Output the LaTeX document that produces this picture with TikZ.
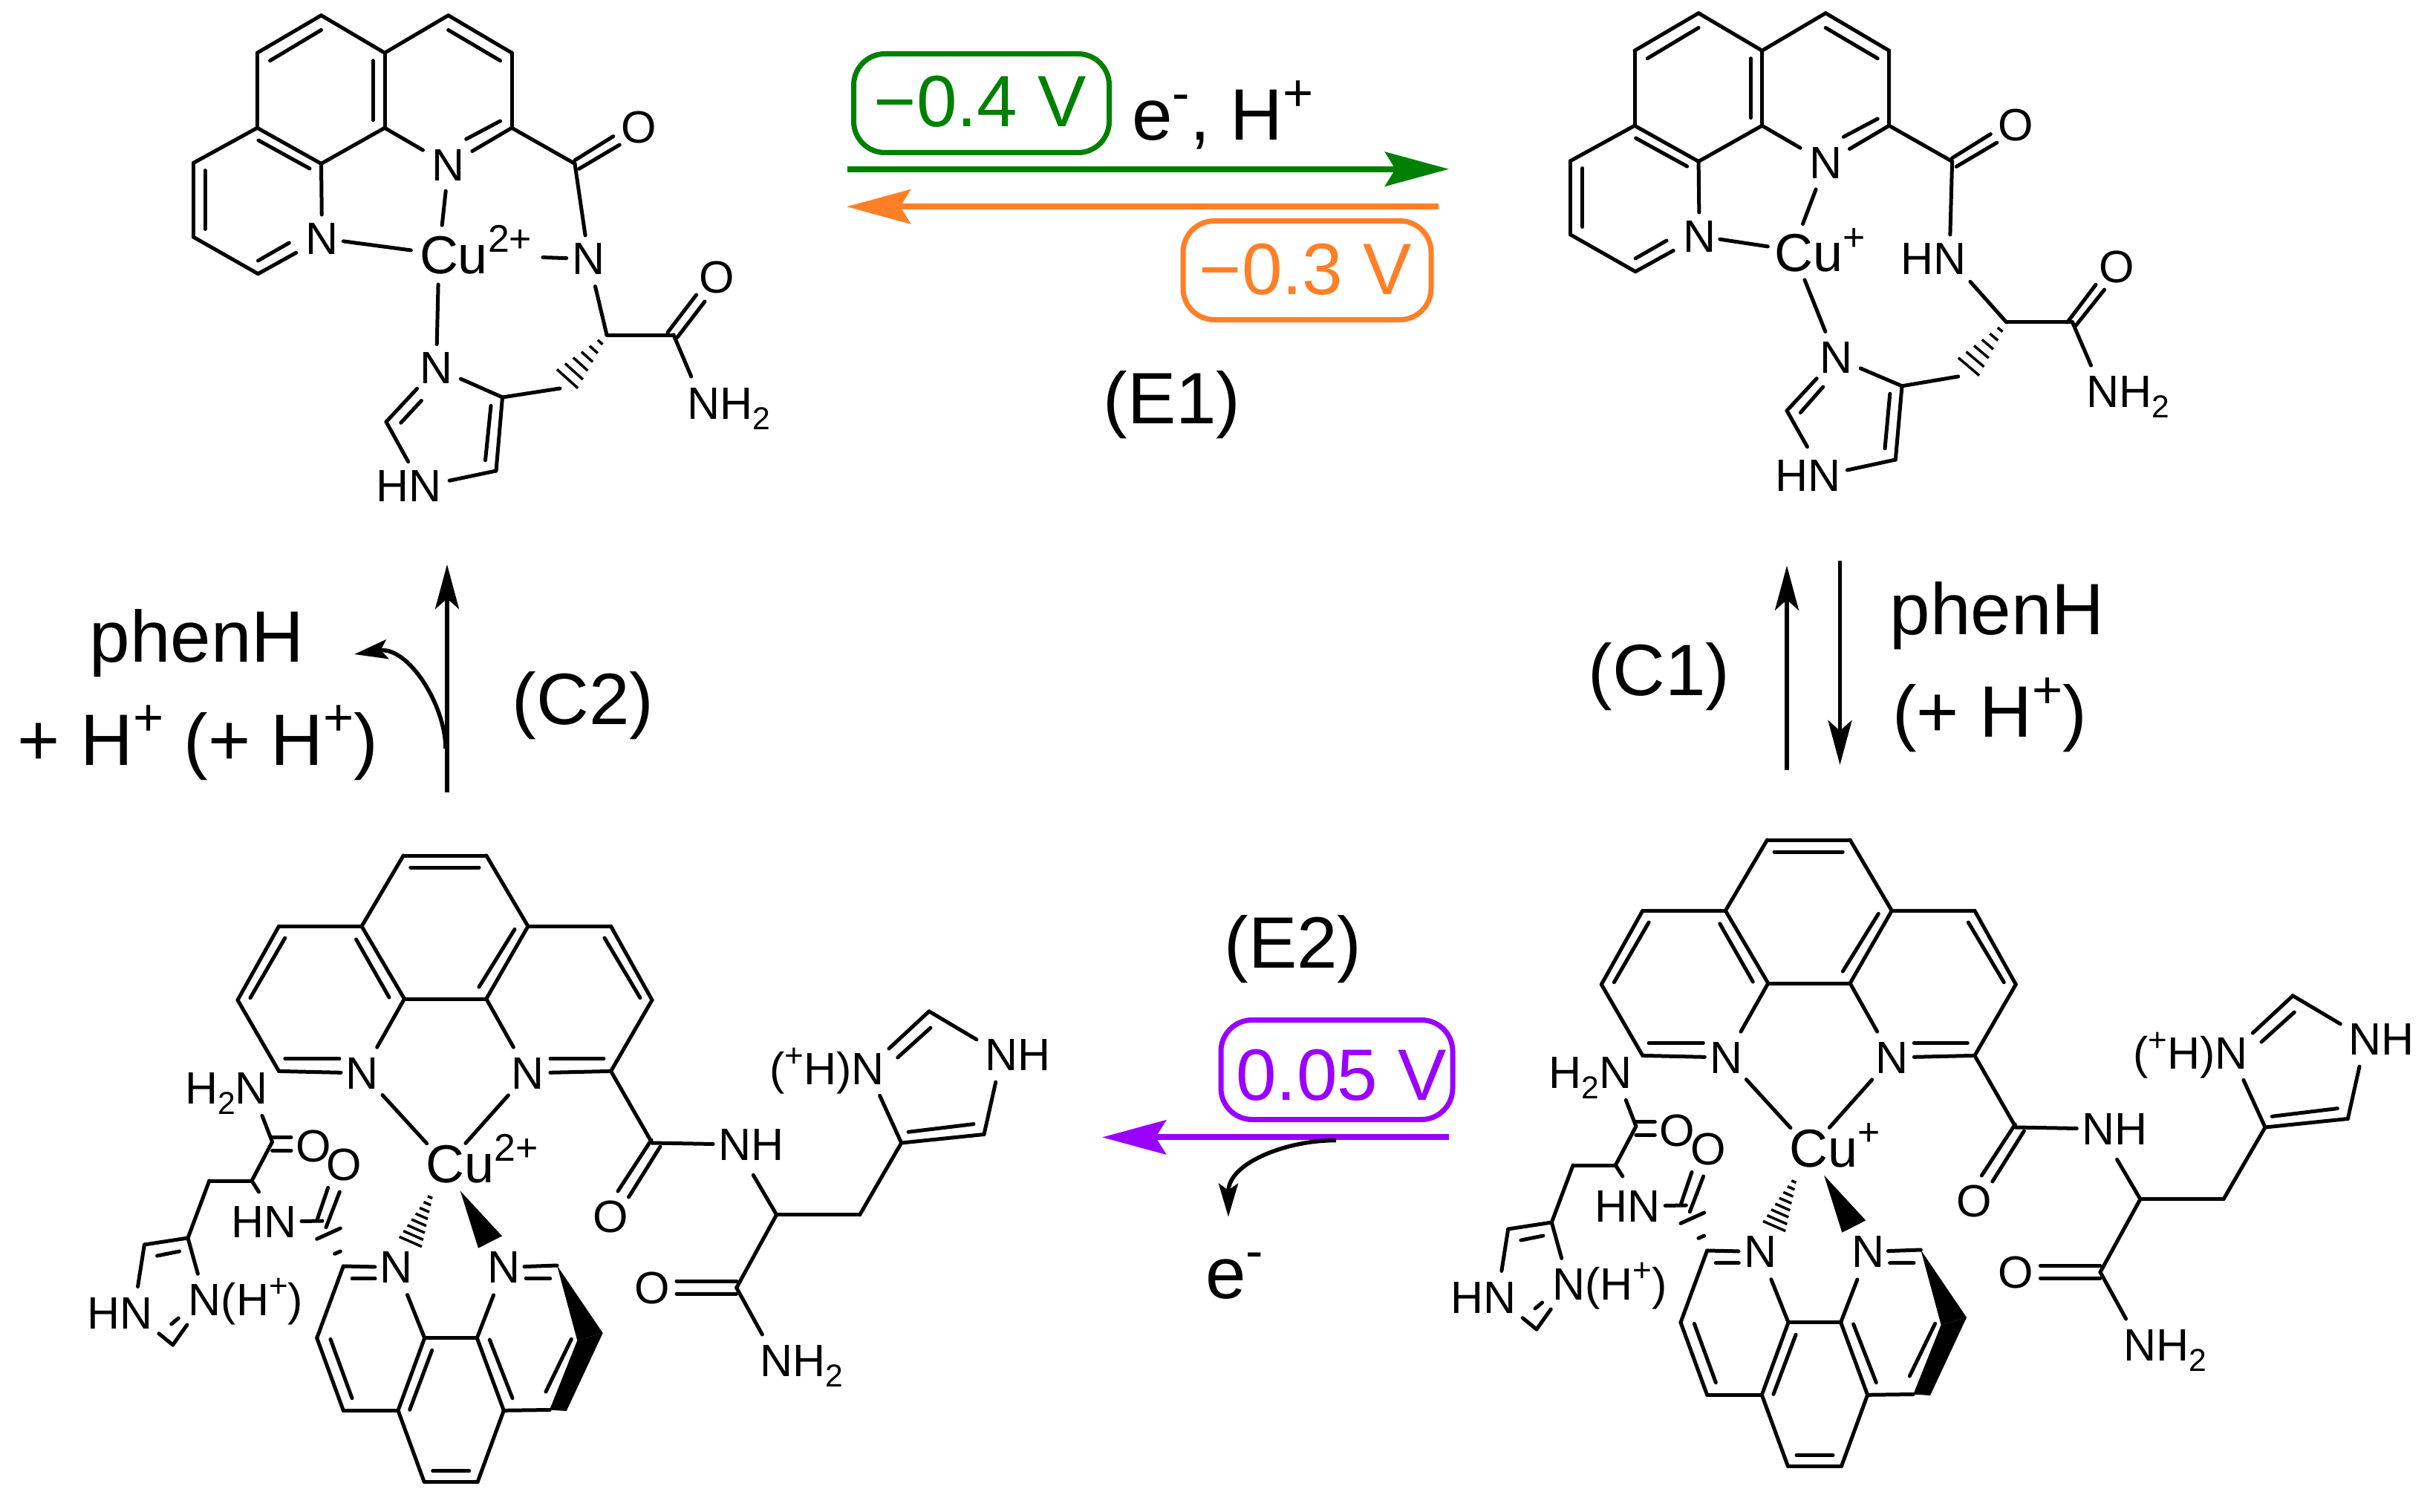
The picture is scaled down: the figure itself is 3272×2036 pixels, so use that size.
\documentclass[tikz,border=0pt]{standalone}
\usepackage{fontspec}
\setmainfont{Liberation Sans}
\usetikzlibrary{arrows.meta,calc}
\definecolor{cgreen}{HTML}{008000}
\definecolor{corange}{HTML}{FF7F27}
\definecolor{cpurple}{HTML}{9900FF}
\newcommand\ssup[1]{\raisebox{.4em}{\scalebox{.72}{#1}}}
\newcommand\ssub[1]{\raisebox{-.23em}{\scalebox{.7}{#1}}}
\newcommand\fsz[1]{\fontsize{#1}{#1}\selectfont}
\tikzset{
  bond/.style={line width=5pt,line cap=round,line join=round},
  hashl/.style={line width=3.5pt},
  atom/.style={inner sep=0pt,outer sep=0pt,anchor=base,font=\fsz{61}},
  metal/.style={inner sep=0pt,outer sep=0pt,anchor=base west,font=\fsz{72}},
  lab/.style={inner sep=0pt,outer sep=0pt,anchor=base,font=\fsz{98}},
  vtxt/.style={inner sep=0pt,outer sep=0pt,font=\fsz{98}},
  vbox/.style={draw,line width=7pt,rounded corners=42pt,inner sep=0pt},
  thinarrow/.style={line width=5.5pt,-{Stealth[length=60pt,width=32pt,inset=14pt]}},
  curvearrow/.style={line width=5.5pt,-{Stealth[length=45pt,width=26pt,inset=9pt]}},
  fatarrow/.style={line width=8pt,-{Stealth[length=86pt,width=46pt,inset=14pt]}}
}
% bond between two named points, centre to centre, trimmed at either end
\newcommand\bs[4]{\draw[bond,shorten <=#3pt,shorten >=#4pt] (#1.center) -- (#2.center);}
\newcommand\bb[2]{\draw[bond] (#1.center) -- (#2.center);}
\newcommand\il[2]{\draw[bond] #1 -- #2;}
\newcommand\hashw[4]{%
  \foreach \ii in {1,...,#3}{%
    \pgfmathsetmacro\tf{\ii/#3}%
    \pgfmathsetmacro\hw{#4*\tf/2+1.5}%
    \draw[hashl] ($(#1)!\tf!(#2)!\hw pt!90:(#1)$) -- ($(#1)!\tf!(#2)!\hw pt!-90:(#1)$);}}
% phenanthroline of the two top complexes
\newcommand\phentop{%
  \coordinate (a1) at (432.5,20.7);
  \coordinate (a2) at (346.4,71.2);
  \coordinate (a3) at (346.4,172.2);
  \coordinate (a4) at (432.5,220.4);
  \coordinate (a5) at (518,172.2);
  \coordinate (a6) at (518,71.2);
  \coordinate (a7) at (603.6,20.7);
  \coordinate (a8) at (689.1,71.2);
  \coordinate (a9) at (689.1,172.2);
  \coordinate (b1) at (260.3,219.5);
  \coordinate (b2) at (260.3,319.1);
  \coordinate (b3) at (347.5,368.7);
  \coordinate (c) at (774,220.4);
  \node[atom] (N1) at (604,243.3) {N};
  \node[atom] (N2) at (433.6,342) {N};
  \node[atom] (O1) at (860,193) {O};
  \bb{a1}{a2}\bb{a2}{a3}\bb{a3}{a4}\bb{a4}{a5}\bb{a5}{a6}\bb{a6}{a1}
  \bb{a6}{a7}\bb{a7}{a8}\bb{a8}{a9}\bb{a3}{b1}\bb{b1}{b2}\bb{b2}{b3}\bb{a9}{c}
  \bs{b3}{N2}{0}{40}\bs{a4}{N2}{0}{32}\bs{a5}{N1}{0}{40}\bs{a9}{N1}{0}{37}
  \il{(432.5,40.4)}{(363.6,81.7)}
  \il{(502.5,81.7)}{(502.5,161.6)}
  \il{(603.6,40.4)}{(673.6,81.7)}
  \il{(348,189)}{(417,227)}
  \il{(276.3,229.6)}{(276.3,308.5)}
  \il{(347.5,351)}{(389.4,327)}
  \il{(673.6,163)}{(627.7,187.3)}
  \il{(774,215.8)}{(825.7,183.6)}
  \il{(779.7,227.3)}{(834.3,195)}
}
% large complex of the lower row
\newcommand\bigmol[3]{%
\begin{scope}[shift={#1},name prefix=#2-]
  \coordinate (p1) at (543.2,1152);
  \coordinate (p2) at (654.8,1152);
  \coordinate (p3) at (487,1247.3);
  \coordinate (p4) at (711,1247.3);
  \coordinate (p5) at (375.5,1247.3);
  \coordinate (p6) at (822.6,1247.3);
  \coordinate (p7) at (320,1346.6);
  \coordinate (p8) at (878,1346.6);
  \coordinate (p9) at (544.5,1345);
  \coordinate (p10) at (654.8,1345);
  \coordinate (p11) at (375.5,1442.4);
  \coordinate (p12) at (822.6,1442.4);
  \coordinate (r1) at (878,1539);
  \coordinate (r2) at (1045.6,1635.7);
  \coordinate (r3) at (1157.7,1635.7);
  \coordinate (r4) at (991.7,1734);
  \coordinate (im1) at (1213.7,1539);
  \coordinate (im2) at (1325,1527.5);
  \coordinate (im3) at (1251,1361.8);
  \coordinate (cuc) at (601,1568.5);
  \node[atom] (Nl) at (488,1466) {N};
  \node[atom] (Nr) at (711,1466) {N};
  \node[atom] (O2) at (822,1659) {O};
  \node[atom] (O3) at (878,1755) {O};
  \node[metal] (Cu) at (573.5,1592) {#3};
  \node[atom,anchor=base west] (NHa) at (967.5,1562.5) {NH};
  \coordinate (NHac) at (990,1541);
  \node[atom,anchor=base east] (NHp) at (1190.5,1460.7) {(\ssup{+}H)N};
  \coordinate (NHpc) at (1168,1439);
  \node[atom,anchor=base west] (NHb) at (1326.5,1441) {NH};
  \coordinate (NHbc) at (1349,1420);
  \node[atom,anchor=base west] (NH2) at (1023.5,1853) {NH\ssub{2}};
  \coordinate (NH2c) at (1045.6,1832);
  % upper phenanthroline
  \bb{p1}{p2}\bb{p1}{p3}\bb{p2}{p4}\bb{p3}{p5}\bb{p4}{p6}\bb{p5}{p7}\bb{p6}{p8}
  \bb{p3}{p9}\bb{p4}{p10}\bb{p9}{p10}\bb{p7}{p11}\bb{p8}{p12}\bb{p12}{r1}
  \bs{p9}{Nl}{0}{40}\bs{p10}{Nr}{0}{40}
  \bs{p11}{Nl}{0}{29}\bs{p12}{Nr}{0}{30}
  \il{(552.8,1168)}{(645,1168)}
  \il{(383.8,1263)}{(337,1343.7)}
  \il{(479.5,1264.9)}{(524,1343)}
  \il{(693,1251.4)}{(645,1329)}
  \il{(814,1263)}{(862,1343.7)}
  \il{(383.8,1425.5)}{(457,1425.5)}
  \il{(741,1425.5)}{(813,1425.5)}
  % right arm
  \il{(877,1535)}{(832,1604)}
  \il{(889,1544)}{(846.5,1612)}
  \bs{r1}{NHac}{0}{30}
  \bs{NHac}{r2}{48}{0}
  \bb{r2}{r3}\bb{r3}{im1}\bb{im1}{im2}\bb{r2}{r4}
  \il{(991.7,1725)}{(911,1725)}
  \il{(991.7,1742)}{(911,1742)}
  \bs{r4}{NH2c}{0}{40}
  \bs{NHpc}{im1}{40}{0}
  \bs{NHpc}{im3}{39.6}{0}
  \il{(1208.7,1424)}{(1253,1384)}
  \bs{im3}{NHbc}{0}{39.6}
  \bs{NHbc}{im2}{38}{0}
  \il{(1223,1524.3)}{(1311,1513.6)}
  % Cu bonds
  \bs{Nl}{cuc}{40}{39}\bs{Nr}{cuc}{40}{39}
  % lower phenanthroline
  \coordinate (q1) at (462.3,1705);
  \coordinate (q2) at (426.7,1801.7);
  \coordinate (q3) at (462.3,1899.3);
  \coordinate (q4) at (536,1899.3);
  \coordinate (q5) at (571.7,1801.7);
  \coordinate (q6) at (642.3,1801.7);
  \coordinate (q7) at (678.3,1899.3);
  \coordinate (q8) at (571,1995);
  \coordinate (q9) at (643.3,1995);
  \coordinate (q10) at (740,1898.5);
  \coordinate (q11) at (777.3,1805);
  \coordinate (q12) at (750,1704);
  \coordinate (w1) at (811.7,1795);
  \coordinate (w2) at (762.7,1900);
  \node[atom] (Nm) at (533.7,1727.5) {N};
  \node[atom] (Nn) at (679,1727.5) {N};
  \bb{q1}{q2}\bb{q2}{q3}\bb{q3}{q4}\bb{q4}{q5}\bb{q5}{q6}\bb{q6}{q7}\bb{q4}{q8}
  \bb{q8}{q9}\bb{q9}{q7}\bb{q7}{q10}
  \bs{q1}{Nm}{0}{29}\bs{q5}{Nm}{0}{40}\bs{q6}{Nn}{0}{40}\bs{q12}{Nn}{0}{27}
  \il{(474,1721.7)}{(505,1721.7)}
  \il{(740.7,1721.7)}{(708.3,1721.7)}
  \il{(445,1803.3)}{(474,1882.7)}
  \il{(581.7,1818.3)}{(551.7,1898.3)}
  \il{(659.3,1804)}{(690,1882.7)}
  \il{(582.7,1980.7)}{(631.7,1980.7)}
  \il{(769.3,1803.3)}{(735,1874)}
  \fill (q12) -- (w1) -- (q11) -- cycle;
  \fill (w1) -- (w2) -- (q10) -- (q11) -- cycle;
  % wedges at Cu
  \coordinate (hs) at (582.8,1603.6);
  \coordinate (he) at (552.8,1672);
  \hashw{hs}{he}{8}{30}
  \fill (619.8,1603.6) -- (676,1664.4) -- (644,1680.7) -- cycle;
  % left arm
  \coordinate (s1) at (366.6,1537.6);
  \coordinate (s2) at (339,1590);
  \coordinate (s3) at (281.8,1590);
  \coordinate (s4) at (253,1667);
  \coordinate (s5) at (194.4,1676);
  \coordinate (s6) at (232.7,1811);
  \coordinate (s7) at (434,1644);
  \node[atom,anchor=base east] (H2N) at (361,1486.8) {H\ssub{2}N};
  \coordinate (H2Nc) at (338.5,1465);
  \node[atom] (O4) at (422,1564) {O};
  \node[atom] (O5) at (463.5,1589) {O};
  \node[atom,anchor=base west] (HNa) at (311,1666) {HN};
  \coordinate (HNac) at (374,1645);
  \node[atom,anchor=base west] (HNb) at (117.5,1789) {HN};
  \coordinate (HNbc) at (180,1768);
  \node[atom,anchor=base west] (NHH) at (253.7,1771) {N(H\ssup{+})};
  \coordinate (NHHc) at (276,1750);
  \bs{H2Nc}{s1}{40}{0}
  \il{(366.6,1531.8)}{(392,1531.8)}
  \il{(366.6,1549.3)}{(392,1549.3)}
  \bb{s1}{s2}\bb{s2}{s3}\bb{s3}{s4}\bb{s4}{s5}
  \bs{s2}{HNac}{0}{47.5}
  \bs{HNac}{s7}{32}{0}
  \il{(441.7,1599.3)}{(427.3,1641.7)}
  \il{(457.3,1605)}{(439,1652.7)}
  \il{(426.7,1668.3)}{(458.3,1654)}
  \il{(450.7,1688.3)}{(458.3,1685)}
  \il{(211.6,1691)}{(241.6,1685)}
  \bs{s5}{HNbc}{0}{36}
  \bs{s4}{NHHc}{0}{36}
  \bs{HNbc}{s6}{43.8}{0}
  \bs{NHHc}{s6}{41.6}{0}
  \il{(230.7,1783)}{(240.3,1775)}
\end{scope}}

\begin{document}
\begin{tikzpicture}[x=1pt,y=-1pt]
\useasboundingbox (0,0) rectangle (3272,2036);
\fill[white] (0,0) rectangle (3272,2036);

% ---- top left complex
\begin{scope}[name prefix=A-]
  \phentop
  \coordinate (cu) at (591,342);
  \coordinate (d) at (817,451);
  \coordinate (e) at (907,451);
  \coordinate (f) at (676.5,535);
  \coordinate (g) at (668,634);
  \coordinate (h) at (520,568);
  \coordinate (t) at (754,523);
  \coordinate (hw) at (764,510);
  \node[metal] (Cu) at (565,368.7) {Cu\ssup{2+}};
  \node[atom] (N3) at (792.7,369.6) {N};
  \node[atom] (N4) at (587.5,516.5) {N};
  \node[atom] (O2) at (965,394) {O};
  \node[atom,anchor=base west] (NH2) at (925,564.7) {NH\ssub{2}};
  \coordinate (NH2c) at (946,543);
  \node[atom,anchor=base west] (HN) at (506,675.9) {HN};
  \coordinate (HNc) at (568,655);
  \bs{N1}{cu}{35}{39}\bs{N2}{cu}{29}{38}\bs{N4}{cu}{32}{41}\bs{N3}{cu}{30}{140}
  \bs{c}{N3}{0}{32}\bs{N3}{d}{38}{0}
  \bb{d}{e}\bs{e}{NH2c}{0}{39}
  \il{(899,447.6)}{(937.6,397)}
  \il{(911.8,454.5)}{(949,406)}
  \bs{N4}{f}{36}{0}\bb{f}{g}\bs{g}{HNc}{0}{38}\bs{HNc}{h}{38}{0}
  \bs{h}{N4}{0}{38}
  \il{(539.8,569.3)}{(567.4,539.5)}
  \il{(661,546.4)}{(653.5,619.8)}
  \bb{f}{t}
  \hashw{d}{hw}{6}{35}
\end{scope}

% ---- top right complex
\begin{scope}[shift={(1854.6,-3)},name prefix=B-]
  \phentop
\end{scope}
\begin{scope}[name prefix=B-]
  \coordinate (cu) at (2414,337);
  \coordinate (d) at (2701.6,433.9);
  \coordinate (e) at (2790.5,433.9);
  \coordinate (f) at (2561,519.8);
  \coordinate (g) at (2552.3,619);
  \coordinate (h) at (2406,553);
  \coordinate (t) at (2636.7,507);
  \coordinate (hw) at (2651,493.7);
  \node[metal] (Cu) at (2389,366) {Cu\ssup{+}};
  \node[atom,anchor=base west] (HNa) at (2559.5,369.6) {HN};
  \coordinate (HNac) at (2625,348);
  \node[atom] (N4) at (2472,502.8) {N};
  \node[atom] (O2) at (2849.7,380) {O};
  \node[atom,anchor=base west] (NH2) at (2809.5,548.7) {NH\ssub{2}};
  \coordinate (NH2c) at (2830.5,527);
  \node[atom,anchor=base west] (HN) at (2390,661) {HN};
  \coordinate (HNc) at (2455,640);
  \bs{N1}{cu}{38}{38}\bs{N2}{cu}{28}{34}\bs{N4}{cu}{38}{43}
  \bs{c}{HNac}{0}{32}\bs{HNac}{d}{42}{0}
  \bb{d}{e}\bs{e}{NH2c}{0}{38}
  \il{(2783.6,434)}{(2822,383.4)}
  \il{(2795,438.5)}{(2833.6,390)}
  \bs{N4}{f}{36}{0}\bb{f}{g}\bs{g}{HNc}{0}{33}\bs{HNc}{h}{44}{0}
  \bs{h}{N4}{0}{38}
  \il{(2424.3,555.6)}{(2454.7,521)}
  \il{(2544.8,530.3)}{(2538,603.8)}
  \bb{f}{t}
  \hashw{d}{hw}{6}{34}
\end{scope}

% ---- lower complexes
\bigmol{(0,0)}{C}{Cu\ssup{2+}}
\bigmol{(1836.3,-21)}{D}{Cu\ssup{+}}

% ---- E1
\coordinate (ga) at (1141,227.7);
\coordinate (gb) at (1951,227.7);
\coordinate (oa) at (1937,278.3);
\coordinate (ob) at (1140,278.3);
\draw[fatarrow,cgreen] (ga) -- (gb);
\draw[fatarrow,corange] (oa) -- (ob);
\node[vbox,cgreen,minimum width=344pt,minimum height=133pt] (gbox) at (1321.5,139) {};
\node[vtxt,cgreen] (gtxt) at (1320,136.5) {−0.4 V};
\node[vbox,corange,minimum width=334pt,minimum height=133pt] (obox) at (1760,364) {};
\node[vtxt,corange] (otxt) at (1758,362.6) {−0.3 V};
\node[lab,anchor=base west] (eH) at (1524,188.7) {e\ssup{-}, H\ssup{+}};
\node[lab] (E1) at (1578,570.7) {(E1)};

% ---- C2
\coordinate (c2a) at (602,1066.7);
\coordinate (c2b) at (602,760);
\coordinate (c2c) at (600,1008);
\coordinate (c2d) at (477,881);
\draw[thinarrow] (c2a) -- (c2b);
\draw[curvearrow] (c2c) .. controls (600,950) and (550,870) .. (c2d);
\node[lab] (ph1) at (265,891.7) {phenH};
\node[lab] (ph2) at (266.5,1030) {+ H\ssup{+} (+ H\ssup{+})};
\node[lab] (C2) at (785,975) {(C2)};

% ---- C1
\coordinate (c1a) at (2406,1036.7);
\coordinate (c1b) at (2406,761.7);
\coordinate (c1c) at (2477.5,755);
\coordinate (c1d) at (2477.5,1030);
\draw[thinarrow] (c1a) -- (c1b);
\draw[thinarrow] (c1c) -- (c1d);
\node[lab] (C1) at (2234,936.7) {(C1)};
\node[lab] (ph3) at (2689,854) {phenH};
\node[lab] (ph4) at (2679,992.7) {(+ H\ssup{+})};

% ---- E2
\coordinate (pa) at (1951,1531.4);
\coordinate (pb) at (1484,1531.4);
\coordinate (ca) at (1799,1535.6);
\coordinate (cb) at (1654,1638.7);
\draw[fatarrow,cpurple] (pa) -- (pb);
\draw[curvearrow] (ca) .. controls (1735,1535) and (1654,1565) .. (cb);
\node[vbox,cpurple,minimum width=312pt,minimum height=134pt] (pbox) at (1800,1440.5) {};
\node[vtxt,cpurple] (ptxt) at (1806,1447.7) {0.05 V};
\node[lab] (E2) at (1741,1303.4) {(E2)};
\node[lab,anchor=base west] (em) at (1623,1748) {e\ssup{-}};
\end{tikzpicture}
\end{document}
